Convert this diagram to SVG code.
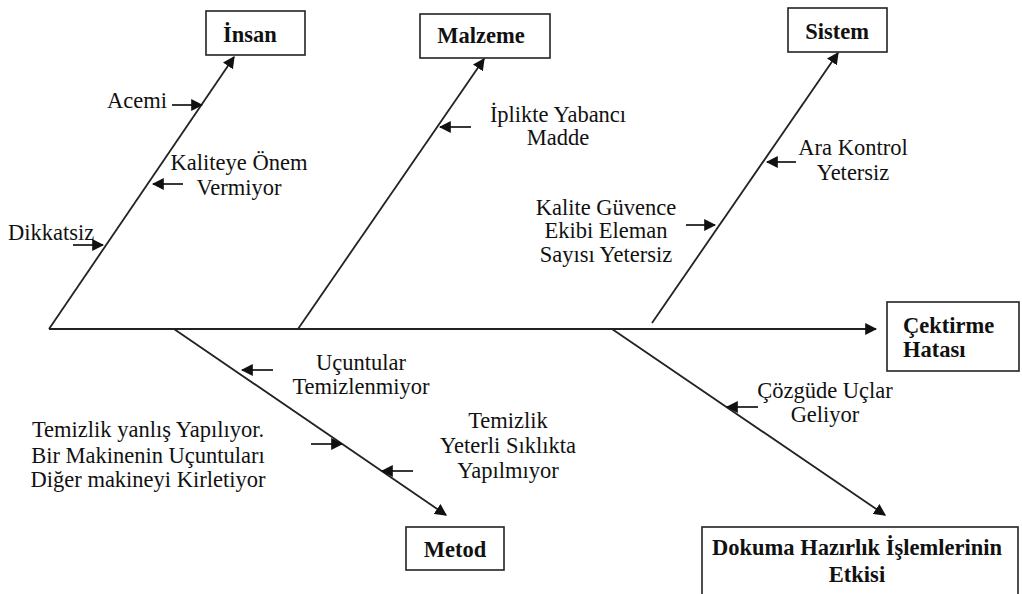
<svg xmlns="http://www.w3.org/2000/svg" width="1022" height="594" viewBox="0 0 1022 594">
<style>
.box{fill:#fff;stroke:#222;stroke-width:1.6}
.ar{stroke:#222;stroke-width:1.8;fill:none;marker-end:url(#ah)}
</style>
<defs>
<marker id="ah" viewBox="0 0 10 10" refX="9" refY="5" markerWidth="12" markerHeight="12" markerUnits="userSpaceOnUse" orient="auto">
<path d="M0,0 L10,5 L0,10 Z" fill="#111"/>
</marker>
</defs>
<rect width="1022" height="594" fill="#fff"/>
<g id="connectors">
<line class="ar" x1="49" y1="329" x2="876" y2="329"/>
<line class="ar" x1="49" y1="329" x2="234" y2="57"/>
<line class="ar" x1="298" y1="329" x2="484" y2="59"/>
<line class="ar" x1="652" y1="323" x2="838" y2="53"/>
<line class="ar" x1="174" y1="329" x2="446" y2="515"/>
<line class="ar" x1="612" y1="329" x2="885" y2="515"/>
<line class="ar" x1="172" y1="105" x2="202" y2="105"/>
<line class="ar" x1="183" y1="184" x2="153" y2="184"/>
<line class="ar" x1="73" y1="245" x2="103" y2="245"/>
<line class="ar" x1="471" y1="127" x2="440" y2="127"/>
<line class="ar" x1="796" y1="162" x2="767" y2="162"/>
<line class="ar" x1="686" y1="225" x2="715" y2="225"/>
<line class="ar" x1="758" y1="407" x2="727" y2="407"/>
<line class="ar" x1="273" y1="370" x2="242" y2="370"/>
<line class="ar" x1="311" y1="444" x2="342" y2="444"/>
<line class="ar" x1="413" y1="471" x2="382" y2="471"/>
</g>
<g id="insan">
<rect class="box" x="206" y="11" width="99" height="44"/>
<text font-family="Liberation Serif" font-size="22.5" font-weight="bold" fill="#111" x="250" y="42" text-anchor="middle">İnsan</text>
</g>
<g id="malzeme">
<rect class="box" x="420" y="14" width="130" height="44"/>
<text font-family="Liberation Serif" font-size="22.5" font-weight="bold" fill="#111" x="481" y="43" text-anchor="middle">Malzeme</text>
</g>
<g id="sistem">
<rect class="box" x="788" y="8" width="99" height="44"/>
<text font-family="Liberation Serif" font-size="22.5" font-weight="bold" fill="#111" x="837" y="39" text-anchor="middle">Sistem</text>
</g>
<g id="cektirme">
<rect class="box" x="887" y="302" width="132" height="69"/>
<text font-family="Liberation Serif" font-size="22.5" font-weight="bold" fill="#111" x="903" y="333">Çektirme</text>
<text font-family="Liberation Serif" font-size="22.5" font-weight="bold" fill="#111" x="903" y="357">Hatası</text>
</g>
<g id="metod">
<rect class="box" x="406" y="527" width="98" height="43"/>
<text font-family="Liberation Serif" font-size="22.5" font-weight="bold" fill="#111" x="455" y="557" text-anchor="middle">Metod</text>
</g>
<g id="dokuma">
<rect class="box" x="702" y="527" width="316" height="80"/>
<text font-family="Liberation Serif" font-size="22.5" font-weight="bold" fill="#111" x="857" y="555" text-anchor="middle">Dokuma Hazırlık İşlemlerinin</text>
<text font-family="Liberation Serif" font-size="22.5" font-weight="bold" fill="#111" x="857" y="582" text-anchor="middle">Etkisi</text>
</g>
<g id="acemi"><text font-family="Liberation Serif" font-size="22.5" fill="#111" x="107" y="108">Acemi</text></g>
<g id="kaliteye">
<text font-family="Liberation Serif" font-size="22.5" fill="#111" x="239" y="170" text-anchor="middle">Kaliteye Önem</text>
<text font-family="Liberation Serif" font-size="22.5" fill="#111" x="239" y="195" text-anchor="middle">Vermiyor</text>
</g>
<g id="dikkatsiz"><text font-family="Liberation Serif" font-size="22.5" fill="#111" x="8" y="240">Dikkatsiz</text></g>
<g id="iplikte">
<text font-family="Liberation Serif" font-size="22.5" fill="#111" x="558" y="122" text-anchor="middle">İplikte Yabancı</text>
<text font-family="Liberation Serif" font-size="22.5" fill="#111" x="558" y="145" text-anchor="middle">Madde</text>
</g>
<g id="arakontrol">
<text font-family="Liberation Serif" font-size="22.5" fill="#111" x="853" y="155" text-anchor="middle">Ara Kontrol</text>
<text font-family="Liberation Serif" font-size="22.5" fill="#111" x="853" y="180" text-anchor="middle">Yetersiz</text>
</g>
<g id="kaliteguvence">
<text font-family="Liberation Serif" font-size="22.5" fill="#111" x="606" y="215" text-anchor="middle">Kalite Güvence</text>
<text font-family="Liberation Serif" font-size="22.5" fill="#111" x="606" y="238" text-anchor="middle">Ekibi Eleman</text>
<text font-family="Liberation Serif" font-size="22.5" fill="#111" x="606" y="262" text-anchor="middle">Sayısı Yetersiz</text>
</g>
<g id="cozgude">
<text font-family="Liberation Serif" font-size="22.5" fill="#111" x="825" y="398" text-anchor="middle">Çözgüde Uçlar</text>
<text font-family="Liberation Serif" font-size="22.5" fill="#111" x="825" y="422" text-anchor="middle">Geliyor</text>
</g>
<g id="ucuntular">
<text font-family="Liberation Serif" font-size="22.5" fill="#111" x="361" y="370" text-anchor="middle">Uçuntular</text>
<text font-family="Liberation Serif" font-size="22.5" fill="#111" x="361" y="394" text-anchor="middle">Temizlenmiyor</text>
</g>
<g id="temizlikyanlis">
<text font-family="Liberation Serif" font-size="22.5" fill="#111" x="148" y="437" text-anchor="middle">Temizlik yanlış Yapılıyor.</text>
<text font-family="Liberation Serif" font-size="22.5" fill="#111" x="148" y="463" text-anchor="middle">Bir Makinenin Uçuntuları</text>
<text font-family="Liberation Serif" font-size="22.5" fill="#111" x="148" y="487" text-anchor="middle">Diğer makineyi Kirletiyor</text>
</g>
<g id="temizlikyeterli">
<text font-family="Liberation Serif" font-size="22.5" fill="#111" x="508" y="428" text-anchor="middle">Temizlik</text>
<text font-family="Liberation Serif" font-size="22.5" fill="#111" x="508" y="453" text-anchor="middle">Yeterli Sıklıkta</text>
<text font-family="Liberation Serif" font-size="22.5" fill="#111" x="508" y="478" text-anchor="middle">Yapılmıyor</text>
</g>
</svg>
